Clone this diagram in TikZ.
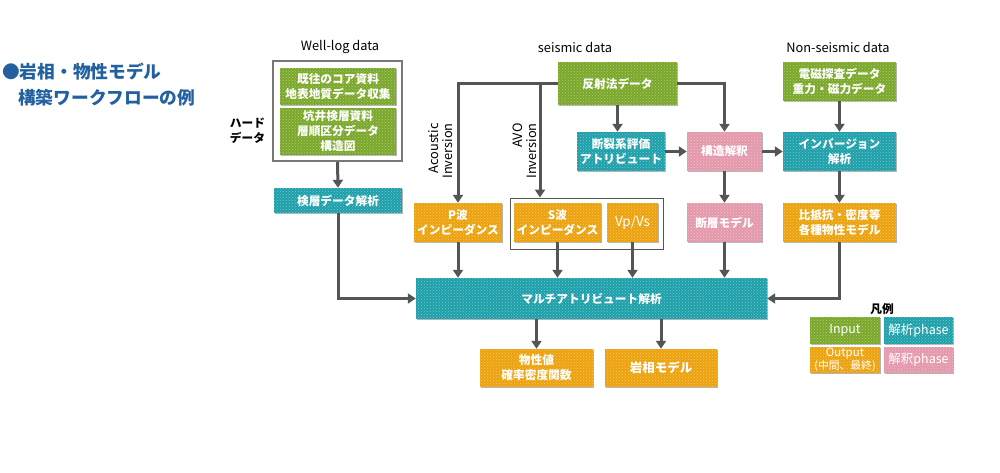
\documentclass[tikz,border=0pt]{standalone}
\usepackage{fontspec}
\setmainfont{Noto Sans CJK JP}
\usetikzlibrary{arrows.meta,patterns,shadows,calc}
\definecolor{cgreen}{RGB}{122,168,42}
\definecolor{cteal}{RGB}{30,160,170}
\definecolor{corange}{RGB}{236,162,12}
\definecolor{cpink}{RGB}{228,152,172}
\definecolor{cline}{RGB}{85,85,85}
\definecolor{ctitle}{RGB}{34,96,160}
\definecolor{couter}{RGB}{120,120,120}
\begin{document}
\begin{tikzpicture}[x=1pt,y=-1pt,
  base/.style={inner sep=0pt, text=white, align=center,
    font=\fontsize{11.7}{15}\selectfont\bfseries,
    drop shadow={shadow xshift=1.3pt,shadow yshift=-1.3pt,opacity=0.3,fill=black},
    postaction={pattern=crosshatch dots, pattern color=white, fill opacity=0.4}},
  gbox/.style={base, fill=cgreen},
  tbox/.style={base, fill=cteal},
  obox/.style={base, fill=corange},
  pbox/.style={base, fill=cpink},
  outerA/.style={draw=couter, line width=1.8pt, fill=white, inner sep=0pt,
    drop shadow={shadow xshift=1.3pt,shadow yshift=-1.3pt,opacity=0.25,fill=black}},
  outerB/.style={draw=cline, line width=0.9pt, fill=white, inner sep=0pt,
    drop shadow={shadow xshift=1.3pt,shadow yshift=-1.3pt,opacity=0.25,fill=black}},
  arr/.style={draw=cline, line width=3pt, -{Triangle[width=10pt,length=8pt]}},
  lbl/.style={inner sep=0pt, text=black, font=\fontsize{12.8}{15}\selectfont},
  rotlbl/.style={inner sep=0pt, text=black, rotate=90, align=right, font=\fontsize{12.8}{14}\selectfont},
  leg/.style={base, font=\fontsize{12.5}{14}\selectfont},
]
\useasboundingbox (0,0) rectangle (1000,472);

% title
\node[anchor=west, inner sep=0pt, align=left, text=ctitle,
  font=\fontsize{17.7}{26}\selectfont\bfseries] (title) at (2,85)
  {●岩相・物性モデル\\\hspace{16pt}構築ワークフローの例};

% column headers
\node[lbl] (hwell) at (340,47) {Well-log data};
\node[lbl] (hseis) at (575,47) {seismic data};
\node[lbl] (hnon) at (838,47) {Non-seismic data};

% well-log column
\node[outerA, minimum width=129pt, minimum height=100pt] (wlout) at (337.5,111) {};
\node[gbox, minimum width=116pt, minimum height=37pt] (wl1) at (338,86.5) {既往のコア資料\\地表地質データ収集};
\node[gbox, minimum width=116pt, minimum height=47pt] (wl2) at (338,131.5) {坑井検層資料\\層順区分データ\\構造図};
\node[lbl, align=left, font=\fontsize{11.7}{15}\selectfont\bfseries] (hard) at (247.5,131) {ハード\\データ};
\node[tbox, minimum width=128pt, minimum height=25pt] (kenso) at (338,200.5) {検層データ解析};

% seismic column
\node[gbox, minimum width=119pt, minimum height=43pt] (hansha) at (617.5,83.5) {反射法データ};
\node[tbox, minimum width=88pt, minimum height=39pt] (danretsu) at (621,151.5) {断裂系評価\\アトリビュート};
\node[pbox, minimum width=75pt, minimum height=39pt] (kozo) at (724.5,151.5) {構造解釈};
\node[obox, minimum width=88pt, minimum height=39pt] (pwave) at (458,222.5) {P波\\インピーダンス};
\node[outerB, minimum width=153pt, minimum height=51pt] (sout) at (586.5,223.5) {};
\node[obox, minimum width=87pt, minimum height=39pt] (swave) at (557.5,222.5) {S波\\インピーダンス};
\node[obox, minimum width=51pt, minimum height=39pt, font=\fontsize{13.5}{15}\selectfont\mdseries] (vpvs) at (632.5,222.5) {Vp/Vs};
\node[pbox, minimum width=75pt, minimum height=39pt] (danso) at (724.5,222.5) {断層モデル};
\node[rotlbl] (aclab) at (441,151) {Acoustic\\Inversion};
\node[rotlbl] (avolab) at (525,151) {AVO\\Inversion};

% non-seismic column
\node[gbox, minimum width=113pt, minimum height=39pt] (denji) at (839.5,81.5) {電磁探査データ\\重力・磁力データ};
\node[tbox, minimum width=113pt, minimum height=39pt] (inv) at (839.5,151.5) {インバージョン\\解析};
\node[obox, minimum width=113pt, minimum height=39pt] (hiteiko) at (839.5,222.5) {比抵抗・密度等\\各種物性モデル};

% bottom
\node[tbox, minimum width=351pt, minimum height=41pt] (multi) at (591.5,298.5) {マルチアトリビュート解析};
\node[obox, minimum width=113pt, minimum height=38pt] (bussei) at (536.5,368) {物性値\\確率密度関数};
\node[obox, minimum width=112pt, minimum height=38pt, font=\fontsize{12.5}{15}\selectfont\bfseries] (gansou) at (661,368) {岩相モデル};

% legend
\node[lbl, font=\fontsize{11.7}{14}\selectfont\bfseries] (hanrei) at (882,309) {凡例};
\node[leg, fill=cgreen, minimum width=70pt, minimum height=27pt] (lin) at (845,330.5) {\mdseries Input};
\node[leg, fill=cteal, minimum width=69pt, minimum height=27pt] (lkai) at (918.5,330.5) {\mdseries 解析phase};
\node[leg, fill=corange, minimum width=70pt, minimum height=26pt] (lout) at (845,360)
  {\mdseries\fontsize{11.5}{11}\selectfont Output\\[-1pt]\fontsize{10.8}{11}\selectfont (中間、最終)};
\node[leg, fill=cpink, minimum width=69pt, minimum height=26pt] (lsha) at (918.5,360) {\mdseries 解釈phase};

% connectors
\coordinate (avoTop) at (540,83);
\draw[arr] (wlout.south) -- (kenso.north);
\draw[arr] (kenso.south) |- (multi.west);
\draw[arr] (hansha.west) -| (pwave.north);
\draw[arr] (avoTop) -- (avoTop |- sout.north);
\draw[arr] (hansha.east) -| (kozo.north);
\draw[arr] (hansha.south) -- (hansha.south |- danretsu.north);
\draw[arr] (danretsu.east) -- (kozo.west);
\draw[arr] (kozo.east) -- (inv.west);
\draw[arr] (kozo.south) -- (danso.north);
\draw[arr] (denji.south) -- (inv.north);
\draw[arr] (inv.south) -- (hiteiko.north);
\draw[arr] (hiteiko.south) |- (multi.east);
\draw[arr] (pwave.south) -- (pwave.south |- multi.north);
\draw[arr] (swave.south) -- (swave.south |- multi.north);
\draw[arr] (vpvs.south) -- (vpvs.south |- multi.north);
\draw[arr] (danso.south) -- (danso.south |- multi.north);
\draw[arr] (bussei.north |- multi.south) -- (bussei.north);
\draw[arr] (gansou.north |- multi.south) -- (gansou.north);
\end{tikzpicture}
\end{document}
